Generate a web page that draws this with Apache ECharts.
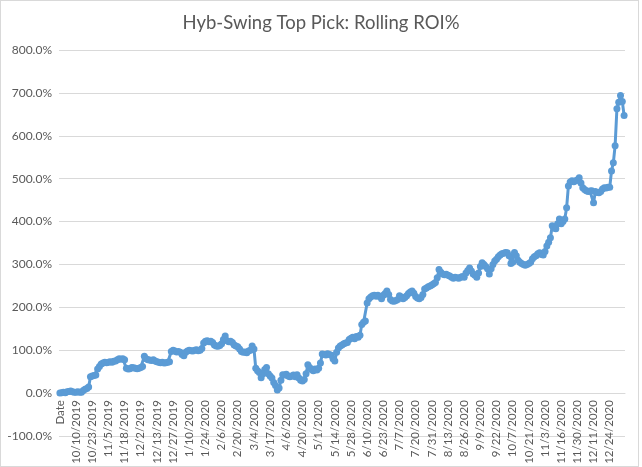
<!DOCTYPE html>
<html>
<head>
<meta charset="utf-8">
<script src="https://cdn.jsdelivr.net/npm/echarts@6/dist/echarts.min.js"></script>
<style>
  html, body { margin: 0; padding: 0; background: #ffffff; }
  #frame { position: absolute; left: 0; top: 0; width: 639px; height: 467px; box-sizing: border-box; border: 1px solid #d9d9d9; }
  #chart { position: absolute; left: 0; top: 0; width: 642px; height: 467px; }
</style>
</head>
<body>
<div id="frame"></div>
<div id="chart"></div>
<script>
// ---- data ----
const titleText = 'Hyb-Swing Top Pick: Rolling ROI%';

const tickLabels = [
  'Date', '10/10/2019', '10/23/2019', '11/5/2019', '11/18/2019', '12/2/2019',
  '12/13/2019', '12/27/2019', '1/10/2020', '1/24/2020', '2/6/2020', '2/20/2020',
  '3/4/2020', '3/17/2020', '4/6/2020', '4/20/2020', '5/1/2020', '5/14/2020',
  '5/28/2020', '6/10/2020', '6/23/2020', '7/7/2020', '7/20/2020', '7/31/2020',
  '8/13/2020', '8/26/2020', '9/9/2020', '9/22/2020', '10/7/2020', '10/21/2020',
  '11/3/2020', '11/16/2020', '11/30/2020', '12/11/2020', '12/24/2020'
];

// Rolling ROI in percent, one value per category (9 per labelled block)
const roiPercent = [
  0, 1, 2, 1, 3, 4, 5, 3, 2,
  2, 3, 2, 2, 6, 9, 11, 14, 38,
  40, 41, 42, 56, 62, 68, 70, 72, 71,
  72, 73, 72, 74, 75, 78, 80, 79, 80,
  78, 58, 56, 57, 60, 59, 58, 57, 58,
  60, 62, 86, 80, 78, 77, 76, 78, 75,
  73, 72, 71, 72, 70, 71, 72, 73, 97,
  100, 98, 96, 97, 95, 90, 87, 95, 98,
  100, 99, 98, 100, 101, 99, 100, 104, 117,
  121, 122, 120, 121, 118, 112, 110, 109, 111,
  115, 125, 133, 122, 120, 121, 118, 112, 110,
  108, 103, 97, 95, 96, 94, 98, 100, 110,
  103, 58, 52, 48, 36, 45, 55, 60, 45,
  40, 35, 25, 18, 7, 12, 30, 43, 42,
  44, 40, 38, 40, 42, 38, 43, 35, 30,
  28, 32, 45, 66, 60, 55, 52, 56, 54,
  58, 70, 91, 90, 89, 92, 90, 88, 80,
  75, 95, 105, 110, 112, 115, 117, 118, 125,
  128, 130, 127, 132, 130, 135, 160, 165, 168,
  210, 220, 224, 227, 228, 226, 228, 225, 220,
  228, 232, 238, 230, 218, 215, 214, 216, 218,
  227, 224, 220, 223, 227, 232, 236, 238, 233,
  225, 222, 220, 223, 230, 243, 245, 248, 250,
  252, 255, 258, 269, 288, 282, 278, 276, 277,
  275, 273, 270, 268, 270, 269, 268, 270, 272,
  270, 280, 286, 292, 285, 278, 275, 270, 280,
  295, 304, 300, 295, 290, 278, 290, 300, 308,
  312, 318, 322, 325, 326, 328, 327, 320, 302,
  305, 328, 320, 310, 305, 302, 300, 298, 300,
  302, 305, 313, 318, 320, 325, 327, 323, 322,
  330, 343, 352, 362, 390, 385, 383, 395, 406,
  395, 400, 406, 432, 483, 492, 495, 493, 495,
  497, 502, 490, 479, 475, 472, 470, 471, 472,
  444, 470, 468, 467, 470, 476, 479, 478, 480,
  480, 518, 537, 577, 663, 678, 694, 680, 647
];

const yMin = -100, yMax = 800, yStep = 100;

// ---- categories: each labelled date followed by the following weekdays ----
function nextWeekdays(startStr, count) {
  const [m, d, y] = startStr.split('/').map(Number);
  const dt = new Date(y, m - 1, d);
  const out = [];
  while (out.length < count) {
    dt.setDate(dt.getDate() + 1);
    const wd = dt.getDay();
    if (wd !== 0 && wd !== 6) out.push((dt.getMonth() + 1) + '/' + dt.getDate() + '/' + dt.getFullYear());
  }
  return out;
}
const categories = [];
tickLabels.forEach((lab, k) => {
  categories.push(lab);
  const base = k === 0 ? '9/27/2019' : lab;
  nextWeekdays(base, 8).forEach(s => categories.push(s));
});
categories.length = roiPercent.length;

// ---- chart ----
const txt = '#595959';
const FONT = 'Lato, "Liberation Sans", sans-serif';
const gridTop = 50, gridBottom = 31, H = 467;
// move the category axis up to the 0% line (Excel: horizontal axis crosses at 0)
const plotH = H - gridTop - gridBottom;
const zeroOffset = -plotH * (0 - yMin) / (yMax - yMin);

const chart = echarts.init(document.getElementById('chart'), null, { renderer: 'canvas' });
chart.setOption({
  animation: false,
  backgroundColor: 'transparent',
  title: {
    text: titleText,
    left: 'center',
    top: 9,
    textStyle: { color: txt, fontSize: 18.5, fontWeight: 'normal', fontFamily: FONT }
  },
  grid: { left: 59, right: 17, top: gridTop, bottom: gridBottom, containLabel: false, outerBoundsMode: 'none' },
  xAxis: {
    type: 'category',
    data: categories,
    boundaryGap: true,
    offset: zeroOffset,
    axisLine: { onZero: false, lineStyle: { color: '#d9d9d9', width: 1 } },
    axisTick: { show: false },
    axisLabel: {
      interval: 8, rotate: 90, hideOverlap: false,
      color: txt, fontSize: 11.5, lineHeight: 12, fontFamily: FONT, margin: 7
    },
    splitLine: { show: false }
  },
  yAxis: {
    type: 'value',
    min: yMin, max: yMax, interval: yStep,
    axisLine: { show: false },
    axisTick: { show: false },
    axisLabel: { color: txt, fontSize: 12, fontFamily: FONT, margin: 7, formatter: v => v.toFixed(1) + '%' },
    splitLine: { lineStyle: { color: '#d9d9d9', width: 1 } }
  },
  series: [{
    type: 'line',
    data: roiPercent,
    showAllSymbol: true,
    symbol: 'circle',
    symbolSize: 7,
    lineStyle: { color: '#5B9BD5', width: 3 },
    itemStyle: { color: '#5B9BD5', borderWidth: 0 },
    emphasis: { disabled: true }
  }]
});
</script>
</body>
</html>
